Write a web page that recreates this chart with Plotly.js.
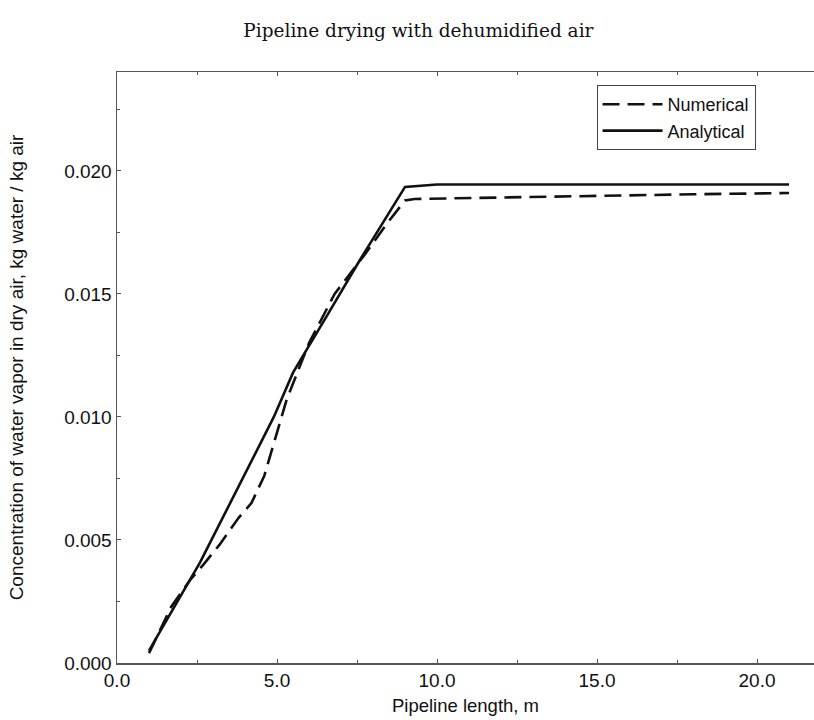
<!DOCTYPE html>
<html>
<head>
<meta charset="utf-8">
<script src="https://cdn.plot.ly/plotly-3.0.1.min.js"></script>
<style>html,body{margin:0;padding:0;background:#fff;}#chart{width:814px;height:720px;}</style>
</head>
<body>
<div id="chart"></div>
<script>
const numericalX = [1.0, 1.7, 2.3, 2.7, 3.2, 3.8, 4.2, 4.6, 5.3, 6.0, 6.8, 7.8, 8.4, 9.0, 9.3, 12.0, 15.0, 18.0, 21.0];
const numericalY = [0.0004, 0.0023, 0.0034, 0.0040, 0.0048, 0.0059, 0.0065, 0.0076, 0.0107, 0.0130, 0.0150, 0.0167, 0.0178, 0.0188, 0.01886, 0.01892, 0.01900, 0.01905, 0.0191];
const analyticalX = [1.0, 2.6, 4.9, 5.5, 6.6, 7.6, 9.0, 10.0, 15.0, 21.0];
const analyticalY = [0.0005, 0.0041, 0.0100, 0.0118, 0.0142, 0.0164, 0.01935, 0.01945, 0.01945, 0.01945];
const xTickVals = [0, 5, 10, 15, 20];
const xTickText = ["0.0", "5.0", "10.0", "15.0", "20.0"];
const yTickVals = [0, 0.005, 0.010, 0.015, 0.020];
const yTickText = ["0.000", "0.005", "0.010", "0.015", "0.020"];

const traces = [
  {x: numericalX, y: numericalY, mode: 'lines', name: 'Numerical',
   line: {color: '#111', width: 2.6, dash: '17px,8px'}},
  {x: analyticalX, y: analyticalY, mode: 'lines', name: 'Analytical',
   line: {color: '#111', width: 2.6}}
];

const layout = {
  width: 814, height: 720,
  margin: {l: 117, r: 0, t: 72, b: 57},
  paper_bgcolor: '#fff', plot_bgcolor: '#fff',
  title: {text: 'Pipeline drying with dehumidified air', x: 0.514, xanchor: 'center', y: 0.958, yanchor: 'middle',
          font: {family: 'DejaVu Serif, serif', size: 18.5, color: '#111'}},
  font: {family: 'Liberation Sans, Arial, sans-serif', size: 19, color: '#111'},
  showlegend: true,
  legend: {x: 0.688, y: 0.978, xanchor: 'left', yanchor: 'top', bgcolor: '#fff',
           bordercolor: '#444', borderwidth: 1, font: {size: 18, color: '#111'},
           tracegroupgap: 0, itemwidth: 60},
  xaxis: {range: [0, 21.78], showgrid: false, zeroline: false, showline: true, linecolor: '#555', linewidth: 1.5,
          mirror: 'ticks', ticks: 'inside', ticklen: 4, tickcolor: '#555',
          tickvals: xTickVals, ticktext: xTickText,
          minor: {dtick: 2.5, ticks: 'inside', ticklen: 3, tickcolor: '#555', showgrid: false},
          title: {text: 'Pipeline length, m', standoff: 9, font: {size: 18.5}}},
  yaxis: {range: [0, 0.02402], showgrid: false, zeroline: false, showline: true, linecolor: '#555', linewidth: 1.5,
          mirror: false, ticks: 'inside', ticklen: 4, tickcolor: '#555',
          tickvals: yTickVals, ticktext: yTickText,
          minor: {dtick: 0.0025, ticks: 'inside', ticklen: 3, tickcolor: '#555', showgrid: false},
          title: {text: 'Concentration of water vapor in dry air, kg water / kg air', standoff: 35, font: {size: 19}}}
};

Plotly.newPlot('chart', traces, layout, {displayModeBar: false, staticPlot: true});
</script>
</body>
</html>
